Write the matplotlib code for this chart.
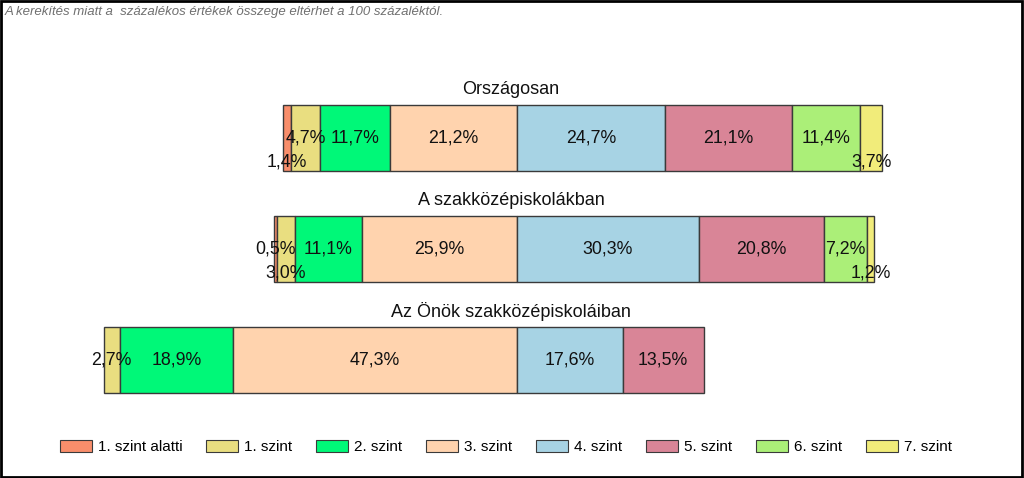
import matplotlib.pyplot as plt
from matplotlib.patches import Patch, Rectangle

plt.rcParams['font.family'] = ['Liberation Sans', 'DejaVu Sans']

groups = ['Országosan', 'A szakközépiskolákban', 'Az Önök szakközépiskoláiban']
levels = ['1. szint alatti', '1. szint', '2. szint', '3. szint',
          '4. szint', '5. szint', '6. szint', '7. szint']
colors = ['#F98E6B', '#E9DE80', '#00F878', '#FFD3AE',
          '#A7D3E4', '#D98597', '#ABEF78', '#F1EC7A']

orszagos = [1.4, 4.7, 11.7, 21.2, 24.7, 21.1, 11.4, 3.7]
szakkozep = [0.5, 3.0, 11.1, 25.9, 30.3, 20.8, 7.2, 1.2]
onok = [0.0, 2.7, 18.9, 47.3, 17.6, 13.5, 0.0, 0.0]
values = [orszagos, szakkozep, onok]

# labels of narrow segments that are pushed down so they do not collide
lowered = {(0, 0), (0, 7), (1, 1), (1, 7)}


def fmt(v):
    return f"{v:.1f}".replace('.', ',') + '%'


def main():
    fig = plt.figure(figsize=(10.24, 4.78), dpi=100)
    ax = fig.add_axes([0, 0, 1, 1])
    ax.set_xlim(-517 / 6, (1024 - 517) / 6)
    ax.set_ylim((478 - 138) / 111, -138 / 111)
    ax.axis('off')

    for row, vals in enumerate(values):
        # bars are centred on the border between level 3 and level 4
        left = -sum(vals[:4])
        for i, v in enumerate(vals):
            if v <= 0:
                continue
            ax.barh(row, v, left=left, height=0.6, color=colors[i],
                    edgecolor='#3a3a3a', linewidth=1)
            dy = 0.22 if (row, i) in lowered else 0
            ax.text(left + v / 2, row + dy, fmt(v), ha='center', va='center',
                    fontsize=12.8, color='#111111')
            left += v
        ax.text(-1, row - 0.44, groups[row], ha='center', va='center',
                fontsize=13, color='#111111')

    fig.text(0.005, 0.988, 'A kerekítés miatt a  százalékos értékek összege eltérhet a 100 százaléktól.',
             ha='left', va='top', fontsize=9.5, style='italic', color='#707070')

    handles = [Patch(facecolor=c, edgecolor='#3a3a3a', linewidth=0.8) for c in colors]
    fig.legend(handles, levels, loc='center', bbox_to_anchor=(0.494, 0.065), ncol=8,
               frameon=False, fontsize=11, handlelength=2.1, handleheight=0.85,
               columnspacing=1.55, handletextpad=0.4)

    fig.patches.append(Rectangle((0.001, 0.002), 0.997, 0.996, transform=fig.transFigure,
                                 fill=False, edgecolor='black', linewidth=2))

    fig.savefig('out.png', dpi=100)


if __name__ == "__main__":
    main()
